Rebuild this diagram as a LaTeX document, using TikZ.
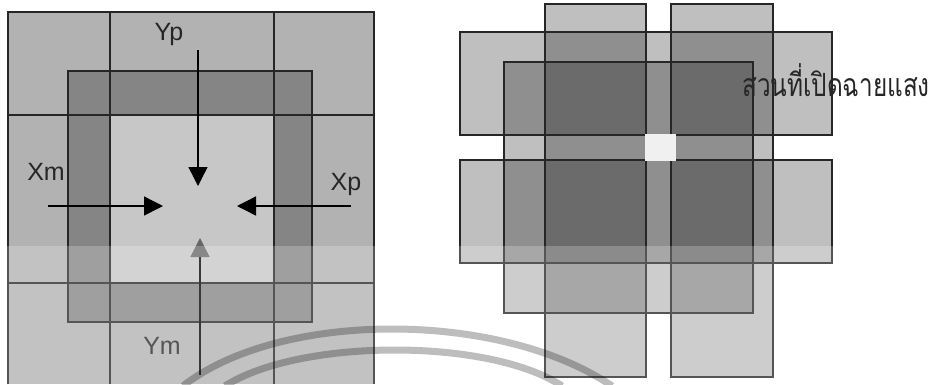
\documentclass[tikz,border=0pt]{standalone}
\usepackage{fontspec}
\setmainfont{Liberation Sans}
\newfontfamily\thaifont[Script=Thai]{Loma}
\usetikzlibrary{arrows.meta}
\tikzset{
  edge/.style={draw=black!85, line width=1.3pt},
  outerfill/.style={fill=black!30},
  ringfill/.style={fill=black!48},
  centerfill/.style={fill=black!22},
  sheet/.style={fill=black, fill opacity=0.25},
  border/.style={draw=black!85, line width=1.4pt},
  arrowline/.style={line width=1.4pt, -{Triangle[length=19pt,width=19pt]}},
  lbl/.style={font=\fontsize{25}{25}\selectfont, text=black!85, inner sep=0pt},
  wm/.style={draw=black, draw opacity=0.26, line width=7pt},
}
\begin{document}
\begin{tikzpicture}[x=1pt,y=-1pt]
\useasboundingbox (0,0) rectangle (934,384);
\fill[white] (0,0) rectangle (934,384);
% ---------- left figure ----------
\path[outerfill] (8,12) rectangle (374,384);
\path[ringfill] (68,71) rectangle (312,322);
\path[centerfill] (110,115) rectangle (274,283);
\draw[edge] (8,384) -- (8,12) -- (374,12) -- (374,384);
\draw[edge] (110,12) -- (110,384);
\draw[edge] (274,12) -- (274,384);
\draw[edge] (8,115) -- (374,115);
\draw[edge] (8,283) -- (374,283);
\draw[edge] (68,71) rectangle (312,322);
% arrows
\coordinate (ypS) at (198,50);   \coordinate (ypE) at (198,186);
\coordinate (xmS) at (48,206);   \coordinate (xmE) at (163,206);
\coordinate (xpS) at (351,206);  \coordinate (xpE) at (237,206);
\coordinate (ymS) at (200,375);  \coordinate (ymE) at (200,238);
\draw[arrowline] (ypS) -- (ypE);
\draw[arrowline] (xmS) -- (xmE);
\draw[arrowline] (xpS) -- (xpE);
\draw[line width=1.4pt, -{Triangle[length=19pt,width=19pt,color=black!60]}] (ymS) -- (ymE);
\node[lbl] (yp) at (169,34) {Yp};
\node[lbl] (xm) at (46,172) {Xm};
\node[lbl] (xp) at (346,184) {Xp};
\node[lbl] (ym) at (162,346) {Ym};
% ---------- right figure ----------
\path[sheet] (545,4) rectangle (646,377);
\path[sheet] (671,4) rectangle (773,377);
\path[sheet] (460,32) rectangle (832,135);
\path[sheet] (460,160) rectangle (832,263);
\path[sheet] (504,62) rectangle (753,313);
\draw[border] (545,4) rectangle (646,377);
\draw[border] (671,4) rectangle (773,377);
\draw[border] (460,32) rectangle (832,135);
\draw[border] (460,160) rectangle (832,263);
\draw[border] (504,62) rectangle (753,313);
\fill[black!6] (645,133.5) rectangle (676,160.5);
\node[anchor=west, inner sep=0pt, text=black!85] (exp) at (742,80)
  {\scalebox{0.76}[1]{\thaifont\fontsize{32}{32}\selectfont สวนที่เปิดฉายแสง}};
% ---------- scan band and watermark ----------
\fill[white, fill opacity=0.22] (0,246) rectangle (934,384);
\draw[wm] (183,386) .. controls (280,310) and (500,310) .. (612,386);
\draw[wm] (225,386) .. controls (300,338) and (490,338) .. (562,386);
\end{tikzpicture}
\end{document}
